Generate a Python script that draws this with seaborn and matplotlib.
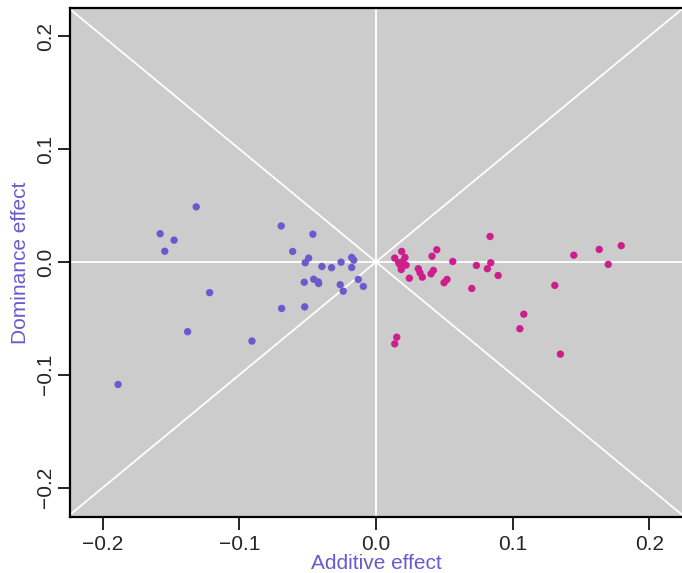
import numpy as np
import pandas as pd
import matplotlib
matplotlib.use("Agg")
import matplotlib.pyplot as plt
import seaborn as sns

# additive / dominance effects
add_neg = [-0.1888, -0.1580, -0.1478, -0.1546, -0.1316, -0.1218, -0.1379, -0.0908,
           -0.0694, -0.0462, -0.0610, -0.0493, -0.0518, -0.0396, -0.0325, -0.0256,
           -0.0178, -0.0163, -0.0178, -0.0525, -0.0456, -0.0423, -0.0420, -0.0262,
           -0.0240, -0.0130, -0.0093, -0.0691, -0.0522]
dom_neg = [-0.1086, 0.0250, 0.0193, 0.0095, 0.0488, -0.0272, -0.0618, -0.0701,
           0.0319, 0.0246, 0.0093, 0.0034, -0.0007, -0.0040, -0.0051, -0.0002,
           0.0040, 0.0016, -0.0049, -0.0180, -0.0153, -0.0176, -0.0191, -0.0202,
           -0.0259, -0.0155, -0.0217, -0.0412, -0.0398]

add_pos = [0.0835, 0.0188, 0.0137, 0.0212, 0.0166, 0.0196, 0.0176, 0.0220, 0.0185,
           0.0410, 0.0445, 0.0562, 0.0735, 0.0840, 0.0815, 0.0894, 0.0310, 0.0322,
           0.0339, 0.0244, 0.0403, 0.0420, 0.0498, 0.0520, 0.0701, 0.0152, 0.0137,
           0.1448, 0.1634, 0.1795, 0.1700, 0.1309, 0.1082, 0.1053, 0.1350]
dom_pos = [0.0226, 0.0093, 0.0034, 0.0040, -0.0007, 0.0004, -0.0025, -0.0028, -0.0067,
           0.0051, 0.0108, 0.0004, -0.0031, -0.0007, -0.0060, -0.0120, -0.0060, -0.0096,
           -0.0135, -0.0144, -0.0105, -0.0075, -0.0184, -0.0155, -0.0235, -0.0667, -0.0726,
           0.0060, 0.0111, 0.0144, -0.0022, -0.0208, -0.0463, -0.0592, -0.0817]

ticks = [-0.2, -0.1, 0.0, 0.1, 0.2]
tick_labels = ["\u22120.2", "\u22120.1", "0.0", "0.1", "0.2"]

purple = "#6A5ACD"
pink = "#CC1F8C"

df = pd.DataFrame({
    "add": add_neg + add_pos,
    "dom": dom_neg + dom_pos,
    "grp": ["neg"] * len(add_neg) + ["pos"] * len(add_pos),
})

sns.set_style("white")
plt.rcParams["font.family"] = ["Liberation Sans", "DejaVu Sans"]

fig = plt.figure(figsize=(6.82, 5.73), dpi=100)
ax = fig.add_axes([70 / 682, 56 / 573, 612 / 682, 509 / 573])
ax.set_facecolor("#CCCCCC")

# reference lines
ax.axhline(0, color="white", lw=1.3, zorder=1)
ax.axvline(0, color="white", lw=1.3, zorder=1)
ax.axline((0, 0), slope=1, color="white", lw=1.3, zorder=1)
ax.axline((0, 0), slope=-1, color="white", lw=1.3, zorder=1)

sns.scatterplot(data=df, x="add", y="dom", hue="grp",
                palette={"neg": purple, "pos": pink},
                s=28, edgecolor="none", legend=False, ax=ax, zorder=3)

ax.set_xlim(-0.224, 0.224)
ax.set_ylim(-0.226, 0.225)
ax.set_xticks(ticks)
ax.set_xticklabels(tick_labels)
ax.set_yticks(ticks)
ax.set_yticklabels(tick_labels, rotation=90, va="center")
ax.tick_params(axis="both", direction="out", length=9, width=1.2,
               labelsize=15, color="black", pad=4, left=True, bottom=True)
ax.tick_params(axis="y", pad=2)

for side in ["left", "bottom", "top"]:
    ax.spines[side].set_color("black")
    ax.spines[side].set_linewidth(1.6)
ax.spines["right"].set_visible(False)

ax.set_xlabel("Additive effect", color=purple, fontsize=15, labelpad=0)
ax.set_ylabel("Dominance effect", color=purple, fontsize=15, labelpad=4)

fig.savefig("out.png", dpi=100)
